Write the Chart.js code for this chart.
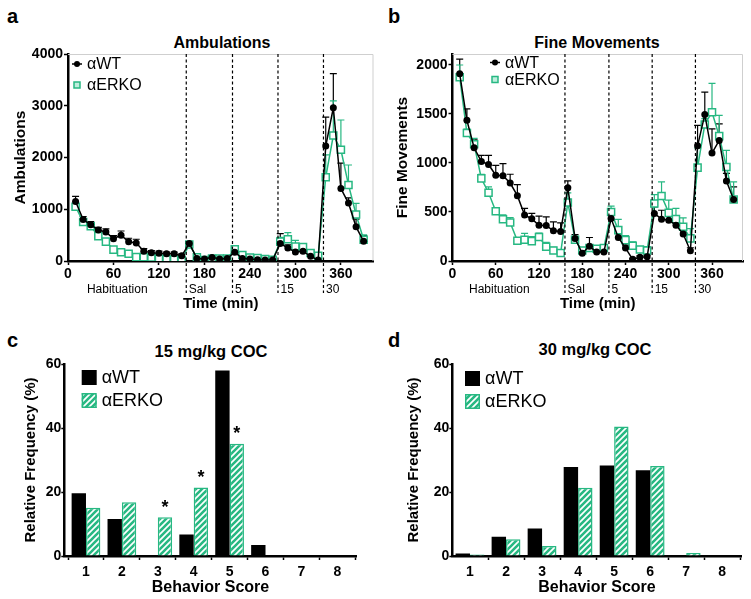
<!DOCTYPE html>
<html>
<head>
<meta charset="utf-8">
<script src="https://cdn.jsdelivr.net/npm/chart.js@4.4.1/dist/chart.umd.min.js"></script>
<style>
  body { margin: 0; width: 751px; height: 599px; background: #fff; position: relative; overflow: hidden;
         font-family: "Liberation Sans", Arial, sans-serif; color: #000; }
  canvas { position: absolute; }
  .lbl { position: absolute; font-weight: bold; font-size: 20px; line-height: 1; }
  .ttl { position: absolute; font-weight: bold; font-size: 16px; line-height: 1; transform: translate(-50%, -50%); white-space: nowrap; }
</style>
</head>
<body>
<div class="lbl" style="left:7px;top:6px">a</div>
<div class="lbl" style="left:388px;top:6px">b</div>
<div class="lbl" style="left:7px;top:330px">c</div>
<div class="lbl" style="left:388px;top:330px">d</div>
<div class="ttl" style="left:222px;top:43px">Ambulations</div>
<div class="ttl" style="left:597px;top:43px">Fine Movements</div>
<div class="ttl" style="left:211px;top:351px;font-size:16.5px">15 mg/kg COC</div>
<div class="ttl" style="left:595px;top:349px;font-size:16.5px">30 mg/kg COC</div>
<canvas id="chartA" width="380" height="285" style="left:0;top:30px"></canvas>
<canvas id="chartB" width="373" height="285" style="left:378px;top:30px"></canvas>
<canvas id="chartC" width="380" height="274" style="left:0;top:325px"></canvas>
<canvas id="chartD" width="373" height="274" style="left:378px;top:325px"></canvas>
<script>
const GREEN = '#27b882';
Chart.defaults.font.family = '"Liberation Sans", Arial, sans-serif';
Chart.defaults.color = '#000';

// time course (min)
const times = [10, 20, 30, 40, 50, 60, 70, 80, 90, 100, 110, 120, 130, 140, 150,
               160, 170, 180, 190, 200, 210,
               220, 230, 240, 250, 260, 270,
               280, 290, 300, 310, 320, 330,
               340, 350, 360, 370, 380, 390];
const dashTimes = [156, 217, 277, 337];
const segLabels = ['Habituation', 'Sal', '5', '15', '30'];
const timeTicks = [0, 60, 120, 180, 240, 300, 360];
const ambTicks = [0, 1000, 2000, 3000, 4000];
const fineTicks = [0, 500, 1000, 1500, 2000];
const freqTicks = [0, 20, 40, 60];

// a: ambulations
const ambWT = [1150, 800, 700, 600, 560, 430, 500, 370, 350, 190, 160, 150, 140, 140, 100,
               340, 50, 40, 70, 40, 50,
               170, 50, 40, 25, 20, 20,
               340, 250, 175, 190, 90, 20,
               2220, 2960, 1400, 1120, 660, 380];
const ambWTsem = [100, 60, 60, 50, 60, 60, 80, 70, 70, 50, 40, 40, 30, 30, 40,
                  30, 15, 10, 15, 10, 10,
                  30, 10, 10, 10, 5, 5,
                  190, 60, 40, 60, 30, 10,
                  560, 660, 490, 100, 150, 110];
const ambKO = [1050, 755, 670, 480, 375, 220, 170, 140, 75, 75, 70, 50, 40, 35, 20,
               320, 70, 20, 50, 50, 50,
               225, 115, 65, 55, 40, 25,
               375, 420, 280, 270, 155, 100,
               1620, 2425, 2150, 1470, 900, 410];
const ambKOsem = [50, 40, 40, 30, 30, 30, 20, 20, 15, 15, 15, 10, 10, 10, 10,
                  30, 10, 10, 10, 10, 10,
                  30, 20, 10, 10, 10, 10,
                  80, 130, 120, 60, 40, 30,
                  430, 670, 575, 385, 215, 95];

// b: fine movements
const fineWT = [1910, 1435, 1155, 1015, 985, 875, 870, 795, 667, 470, 430, 365, 362, 308, 300,
                748, 230, 78, 150, 91, 91,
                433, 240, 132, 17, 37, 44,
                485, 427, 417, 366, 275, 105,
                1176, 1494, 1101, 1230, 817, 627];
const fineWTsem = [150, 118, 82, 63, 93, 101, 123, 90, 113, 66, 55, 93, 88, 92, 90,
                   69, 40, 30, 90, 30, 30,
                   40, 40, 30, 10, 15, 15,
                   67, 91, 74, 50, 50, 30,
                   207, 228, 248, 170, 78, 129];
const fineKO = [1875, 1306, 1191, 843, 697, 508, 426, 393, 206, 217, 203, 244, 146, 108, 81,
                596, 217, 108, 132, 125, 132,
                500, 315, 213, 156, 118, 108,
                587, 664, 491, 427, 349, 231,
                953, 1393, 1518, 1274, 959, 627];
const fineKOsem = [125, 40, 60, 40, 60, 35, 45, 50, 25, 65, 45, 40, 45, 30, 25,
                   100, 30, 20, 25, 25, 25,
                   60, 110, 45, 40, 30, 40,
                   90, 143, 130, 110, 90, 100,
                   200, 60, 295, 211, 170, 180];

// c, d: behavior score distributions (%)
const scores = [1, 2, 3, 4, 5, 6, 7, 8];
const coc15WT = [19.6, 11.6, 0, 6.7, 58.0, 3.4, 0, 0];
const coc15KO = [15.1, 16.8, 12.1, 21.4, 35.1, 0, 0, 0];
const coc15Sig = ['', '', '*', '*', '*', '', '', ''];
const coc30WT = [0.8, 6.0, 8.6, 27.8, 28.3, 26.8, 0, 0];
const coc30KO = [0.5, 5.2, 3.1, 21.3, 40.5, 28.1, 0.9, 0];

function hatch() {
  const c = document.createElement('canvas');
  c.width = 6; c.height = 6;
  const g = c.getContext('2d');
  g.fillStyle = '#fff';
  g.fillRect(0, 0, 6, 6);
  g.strokeStyle = GREEN;
  g.lineWidth = 2.6;
  g.beginPath();
  g.moveTo(0, 6); g.lineTo(6, 0);
  g.moveTo(-3, 3); g.lineTo(3, -3);
  g.moveTo(3, 9); g.lineTo(9, 3);
  g.stroke();
  return g.createPattern(c, 'repeat');
}
const HATCH = hatch();

const pts = (xs, ys) => ys.map((y, i) => ({ x: xs[i], y: y }));
const boldTick = { size: 14, weight: 'bold' };
const fixTicks = list => s => { s.ticks = list.map(v => ({ value: v })); };

const errorBars = {
  id: 'errorBars',
  beforeDatasetsDraw(chart) {
    const ctx = chart.ctx, yS = chart.scales.y;
    chart.data.datasets.forEach((ds, i) => {
      if (!ds.sem) return;
      const meta = chart.getDatasetMeta(i);
      ctx.save();
      ctx.strokeStyle = ds.borderColor;
      ctx.lineWidth = 1.2;
      meta.data.forEach((pt, j) => {
        const top = yS.getPixelForValue(ds.data[j].y + ds.sem[j]);
        ctx.beginPath();
        ctx.moveTo(pt.x, pt.y); ctx.lineTo(pt.x, top);
        ctx.moveTo(pt.x - 3.5, top); ctx.lineTo(pt.x + 3.5, top);
        ctx.stroke();
      });
      ctx.restore();
    });
  }
};

const timeExtras = {
  id: 'timeExtras',
  beforeDatasetsDraw(chart, args, opts) {
    const { ctx, chartArea: a } = chart;
    ctx.save();
    ctx.strokeStyle = '#cfcfcf';
    ctx.lineWidth = 1;
    ctx.beginPath();
    ctx.moveTo(a.left, a.top + 0.5); ctx.lineTo(a.right - 0.5, a.top + 0.5); ctx.lineTo(a.right - 0.5, a.bottom);
    ctx.stroke();
    ctx.restore();
  },
  afterDraw(chart, args, opts) {
    const { ctx, chartArea: a } = chart;
    const xS = chart.scales.x;
    ctx.save();
    ctx.strokeStyle = '#000';
    ctx.lineWidth = 1.2;
    ctx.setLineDash([3, 2.5]);
    dashTimes.forEach(t => {
      const x = xS.getPixelForValue(t);
      ctx.beginPath(); ctx.moveTo(x, a.top); ctx.lineTo(x, a.bottom + 32); ctx.stroke();
    });
    ctx.setLineDash([]);
    ctx.font = '12px "Liberation Sans"';
    ctx.fillStyle = '#000';
    ctx.textBaseline = 'middle';
    ctx.textAlign = 'center';
    ctx.fillText(segLabels[0], xS.getPixelForValue(65), a.bottom + 29);
    ctx.textAlign = 'left';
    dashTimes.forEach((t, i) => {
      ctx.fillText(segLabels[i + 1], xS.getPixelForValue(t) + 2.5, a.bottom + 29);
    });
    // legend
    const lx = a.left + opts.dx, ly = a.top + opts.dy;
    ctx.font = '16px "Liberation Sans"';
    ctx.strokeStyle = '#000';
    ctx.lineWidth = 1.5;
    ctx.beginPath(); ctx.moveTo(lx - 5, ly); ctx.lineTo(lx + 5, ly); ctx.stroke();
    ctx.beginPath(); ctx.arc(lx, ly, 3, 0, Math.PI * 2); ctx.fill();
    ctx.fillText(chart.data.datasets[0].label, lx + 10, ly + 1);
    const ky = ly + opts.gap;
    ctx.strokeStyle = GREEN;
    ctx.fillStyle = '#bfeedd';
    ctx.fillRect(lx - 3, ky - 3, 6, 6);
    ctx.strokeRect(lx - 3, ky - 3, 6, 6);
    ctx.fillStyle = '#000';
    ctx.fillText(chart.data.datasets[1].label, lx + 10, ky + 1);
    ctx.restore();
  }
};

const barExtras = {
  id: 'barExtras',
  afterDatasetsDraw(chart, args, opts) {
    const { ctx, chartArea: a } = chart;
    ctx.save();
    if (opts.sig) {
      const meta = chart.getDatasetMeta(1);
      ctx.font = 'bold 18px "Liberation Sans"';
      ctx.textAlign = 'center';
      ctx.textBaseline = 'alphabetic';
      ctx.fillStyle = '#000';
      meta.data.forEach((bar, j) => {
        if (opts.sig[j]) ctx.fillText(opts.sig[j], bar.x, bar.y - 4.5);
      });
    }
    const lx = a.left + opts.dx, ly = a.top + opts.dy;
    ctx.fillStyle = '#000';
    ctx.fillRect(lx, ly, 15, 15);
    ctx.fillStyle = HATCH;
    ctx.fillRect(lx, ly + opts.gap, 15, 15);
    ctx.strokeStyle = GREEN;
    ctx.lineWidth = 1.5;
    ctx.strokeRect(lx + 0.75, ly + opts.gap + 0.75, 13.5, 13.5);
    ctx.fillStyle = '#000';
    ctx.font = '18px "Liberation Sans"';
    ctx.textBaseline = 'middle';
    ctx.textAlign = 'left';
    ctx.fillText(chart.data.datasets[0].label, lx + 20, ly + 8);
    ctx.fillText(chart.data.datasets[1].label, lx + 20, ly + opts.gap + 8);
    ctx.restore();
  }
};

function axisCommon(extra) {
  return Object.assign({
    border: { display: true, color: '#000', width: 2.5 },
    grid: { drawOnChartArea: false, drawTicks: true, tickLength: 4, tickWidth: 1.5, tickColor: '#000' },
  }, extra);
}

function timeChart(id, wt, wtSem, ko, koSem, yMax, yTicks, yTitle, yW, yTitlePad, rightPad, leg) {
  return new Chart(document.getElementById(id), {
    type: 'line',
    data: {
      datasets: [
        { label: 'αWT', data: pts(times, wt), sem: wtSem, borderColor: '#000', backgroundColor: '#000',
          borderWidth: 1.5, pointRadius: 3.5, pointBorderWidth: 0, pointStyle: 'circle' },
        { label: 'αERKO', data: pts(times, ko), sem: koSem, borderColor: GREEN, backgroundColor: '#fff',
          borderWidth: 1.5, pointRadius: 5, pointBorderWidth: 1.5, pointStyle: 'rect' }
      ]
    },
    options: {
      responsive: false,
      animation: false,
      layout: { padding: { top: 24, right: rightPad, left: 0, bottom: 0 } },
      plugins: { legend: { display: false }, tooltip: { enabled: false }, timeExtras: leg },
      scales: {
        x: axisCommon({
          type: 'linear', min: 0, max: 403,
          ticks: { font: boldTick, padding: 1, callback: v => String(v) },
          afterBuildTicks: fixTicks(timeTicks),
          afterFit: s => { s.height = 54; },
          title: { display: true, text: 'Time (min)', font: { size: 15, weight: 'bold' }, padding: { top: 0, bottom: 2 } }
        }),
        y: axisCommon({
          min: 0, max: yMax,
          ticks: { font: boldTick, padding: 1, callback: v => String(v) },
          afterBuildTicks: fixTicks(yTicks),
          afterFit: s => { s.width = yW; },
          title: { display: true, text: yTitle, font: { size: 15.5, weight: 'bold' }, padding: { top: yTitlePad, bottom: 0 } }
        })
      }
    },
    plugins: [errorBars, timeExtras]
  });
}

function barChart(id, wt, ko, sig, xMin, yW, yTitlePad, rightPad, leg) {
  return new Chart(document.getElementById(id), {
    type: 'bar',
    data: {
      datasets: [
        { label: 'αWT', data: pts(scores, wt), backgroundColor: '#000', borderWidth: 0 },
        { label: 'αERKO', data: pts(scores, ko), backgroundColor: HATCH, borderColor: GREEN, borderWidth: 1.5 }
      ]
    },
    options: {
      responsive: false,
      animation: false,
      categoryPercentage: 0.8,
      barPercentage: 1.0,
      layout: { padding: { top: 39, right: rightPad, left: 0, bottom: 0 } },
      plugins: { legend: { display: false }, tooltip: { enabled: false }, barExtras: Object.assign({ sig: sig }, leg) },
      scales: {
        x: axisCommon({
          type: 'linear', min: xMin, max: 8.54, offset: false,
          ticks: { font: boldTick, padding: 4, callback: v => String(v) },
          afterBuildTicks: fixTicks(scores),
          afterFit: s => { s.height = 43; },
          title: { display: true, text: 'Behavior Score', font: { size: 16, weight: 'bold' }, padding: { top: 0, bottom: 2 } }
        }),
        y: axisCommon({
          min: 0, max: 60,
          ticks: { font: boldTick, padding: 0, callback: v => String(v) },
          afterBuildTicks: fixTicks(freqTicks),
          grid: { drawOnChartArea: false, drawTicks: true, tickLength: 3, tickWidth: 1.5, tickColor: '#000' },
          afterFit: s => { s.width = yW; },
          title: { display: true, text: 'Relative Frequency (%)', font: { size: 15, weight: 'bold' }, padding: { top: yTitlePad, bottom: 0 } }
        })
      }
    },
    plugins: [barExtras]
  });
}

timeChart('chartA', ambWT, ambWTsem, ambKO, ambKOsem, 4000, ambTicks, 'Ambulations', 68, 11, 4,
          { dx: 9, dy: 10, gap: 21 });
timeChart('chartB', fineWT, fineWTsem, fineKO, fineKOsem, 2112, fineTicks, 'Fine Movements', 74.5, 15.5, 8,
          { dx: 42.5, dy: 8.5, gap: 17 });
barChart('chartC', coc15WT, coc15KO, coc15Sig, 0.396, 64.3, 21.8, 23.3, { dx: 17.4, dy: 6, gap: 23 });
barChart('chartD', coc30WT, coc30KO, null, 0.509, 74.3, 27, 9.3, { dx: 12.7, dy: 7, gap: 23 });
</script>
</body>
</html>
